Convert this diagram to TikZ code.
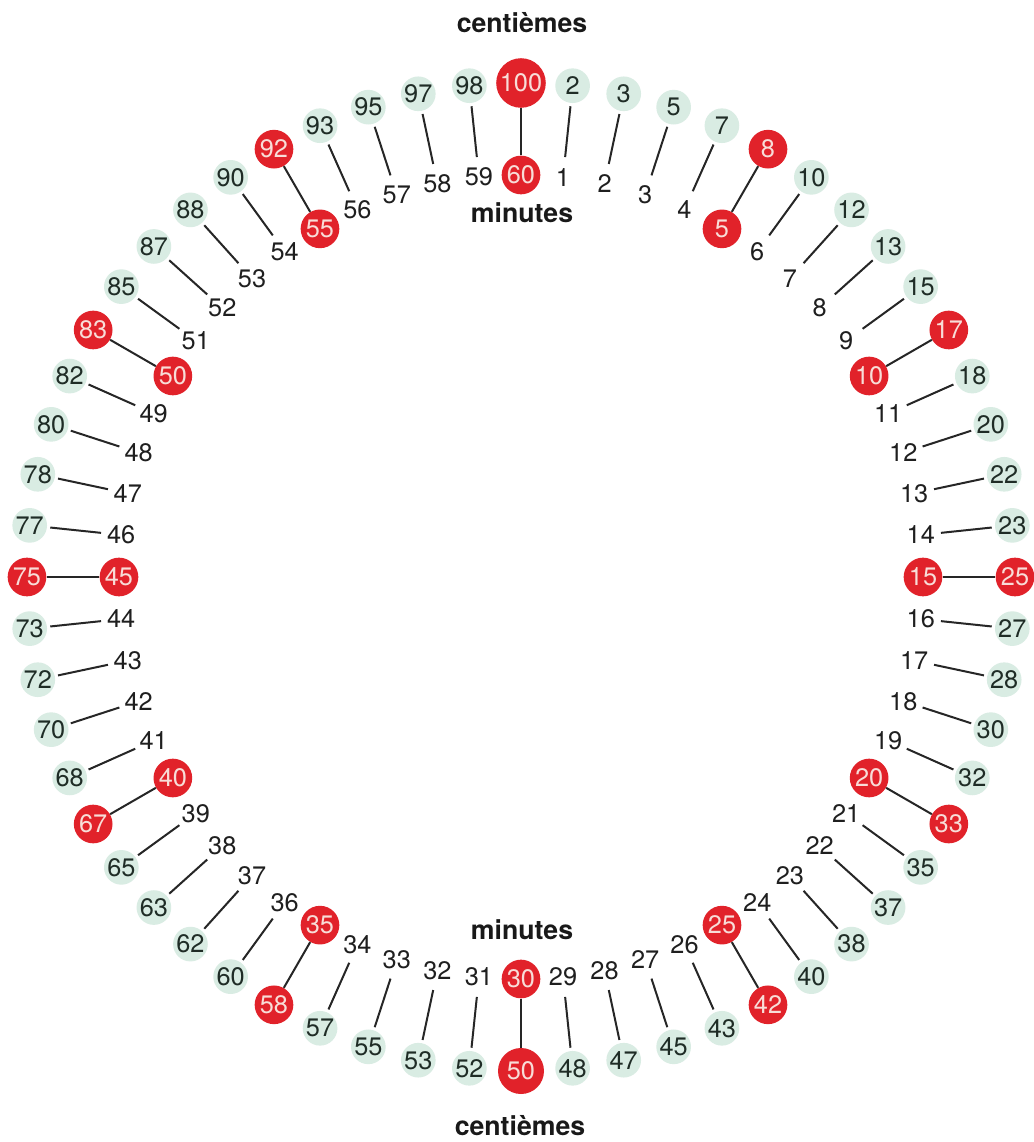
\documentclass[tikz,border=0pt]{standalone}
\usepackage{fontspec}
\setmainfont{TeX Gyre Heros}
\usepackage{xcolor}
\definecolor{dotred}{HTML}{E1222A}
\definecolor{dotgreen}{HTML}{D9ECE3}
\definecolor{redtext}{HTML}{F8DDD8}
\definecolor{greentext}{HTML}{1F2C26}
\tikzset{
  minnum/.style={circle,minimum size=30pt,inner sep=0pt,text=black!88},
  centnum/.style={circle,fill=dotgreen,minimum size=26pt,inner sep=0pt,outer sep=2.5pt,text=greentext},
  rednum/.style={circle,fill=dotred,minimum size=29pt,inner sep=1pt,text=redtext},
  spoke/.style={line width=1.5pt,black!85},
  ringtitle/.style={font=\fontsize{20}{22}\selectfont\bfseries,text=black!90}
}

\begin{document}
\begin{tikzpicture}[x=0.75pt,y=0.75pt,font=\fontsize{19}{21}\selectfont]
 \useasboundingbox[fill=white] (-521,-565) rectangle (512,577);
 % ---- titles
 \node[ringtitle] (topcent) at (1,554) {centièmes};
 \node[ringtitle] (topmin) at (1,364) {minutes};
 \node[ringtitle] (botmin) at (1,-353) {minutes};
 \node[ringtitle] (botcent) at (-1,-549) {centièmes};
 % ---- minutes (inner ring) and hundredths (outer ring)
 \foreach \m in {1,...,60}{
  \pgfmathtruncatemacro\c{round(\m*5/3)}
  \pgfmathtruncatemacro\r{mod(\m,5)}
  \pgfmathsetmacro\dsz{\m==30 ? 34.5 : 29}
  \ifnum\r=0
   \node[rednum] (m\m) at (90-6*\m:402) {\m};
   \node[rednum,minimum size=\dsz pt] (c\m) at (90-6*\m:494) {\c};
  \else
   \node[minnum] (m\m) at (90-6*\m:402) {\m};
   \node[centnum] (c\m) at (90-6*\m:494) {\c};
  \fi
  \draw[spoke] (m\m) -- (c\m);
 }
\end{tikzpicture}
\end{document}
